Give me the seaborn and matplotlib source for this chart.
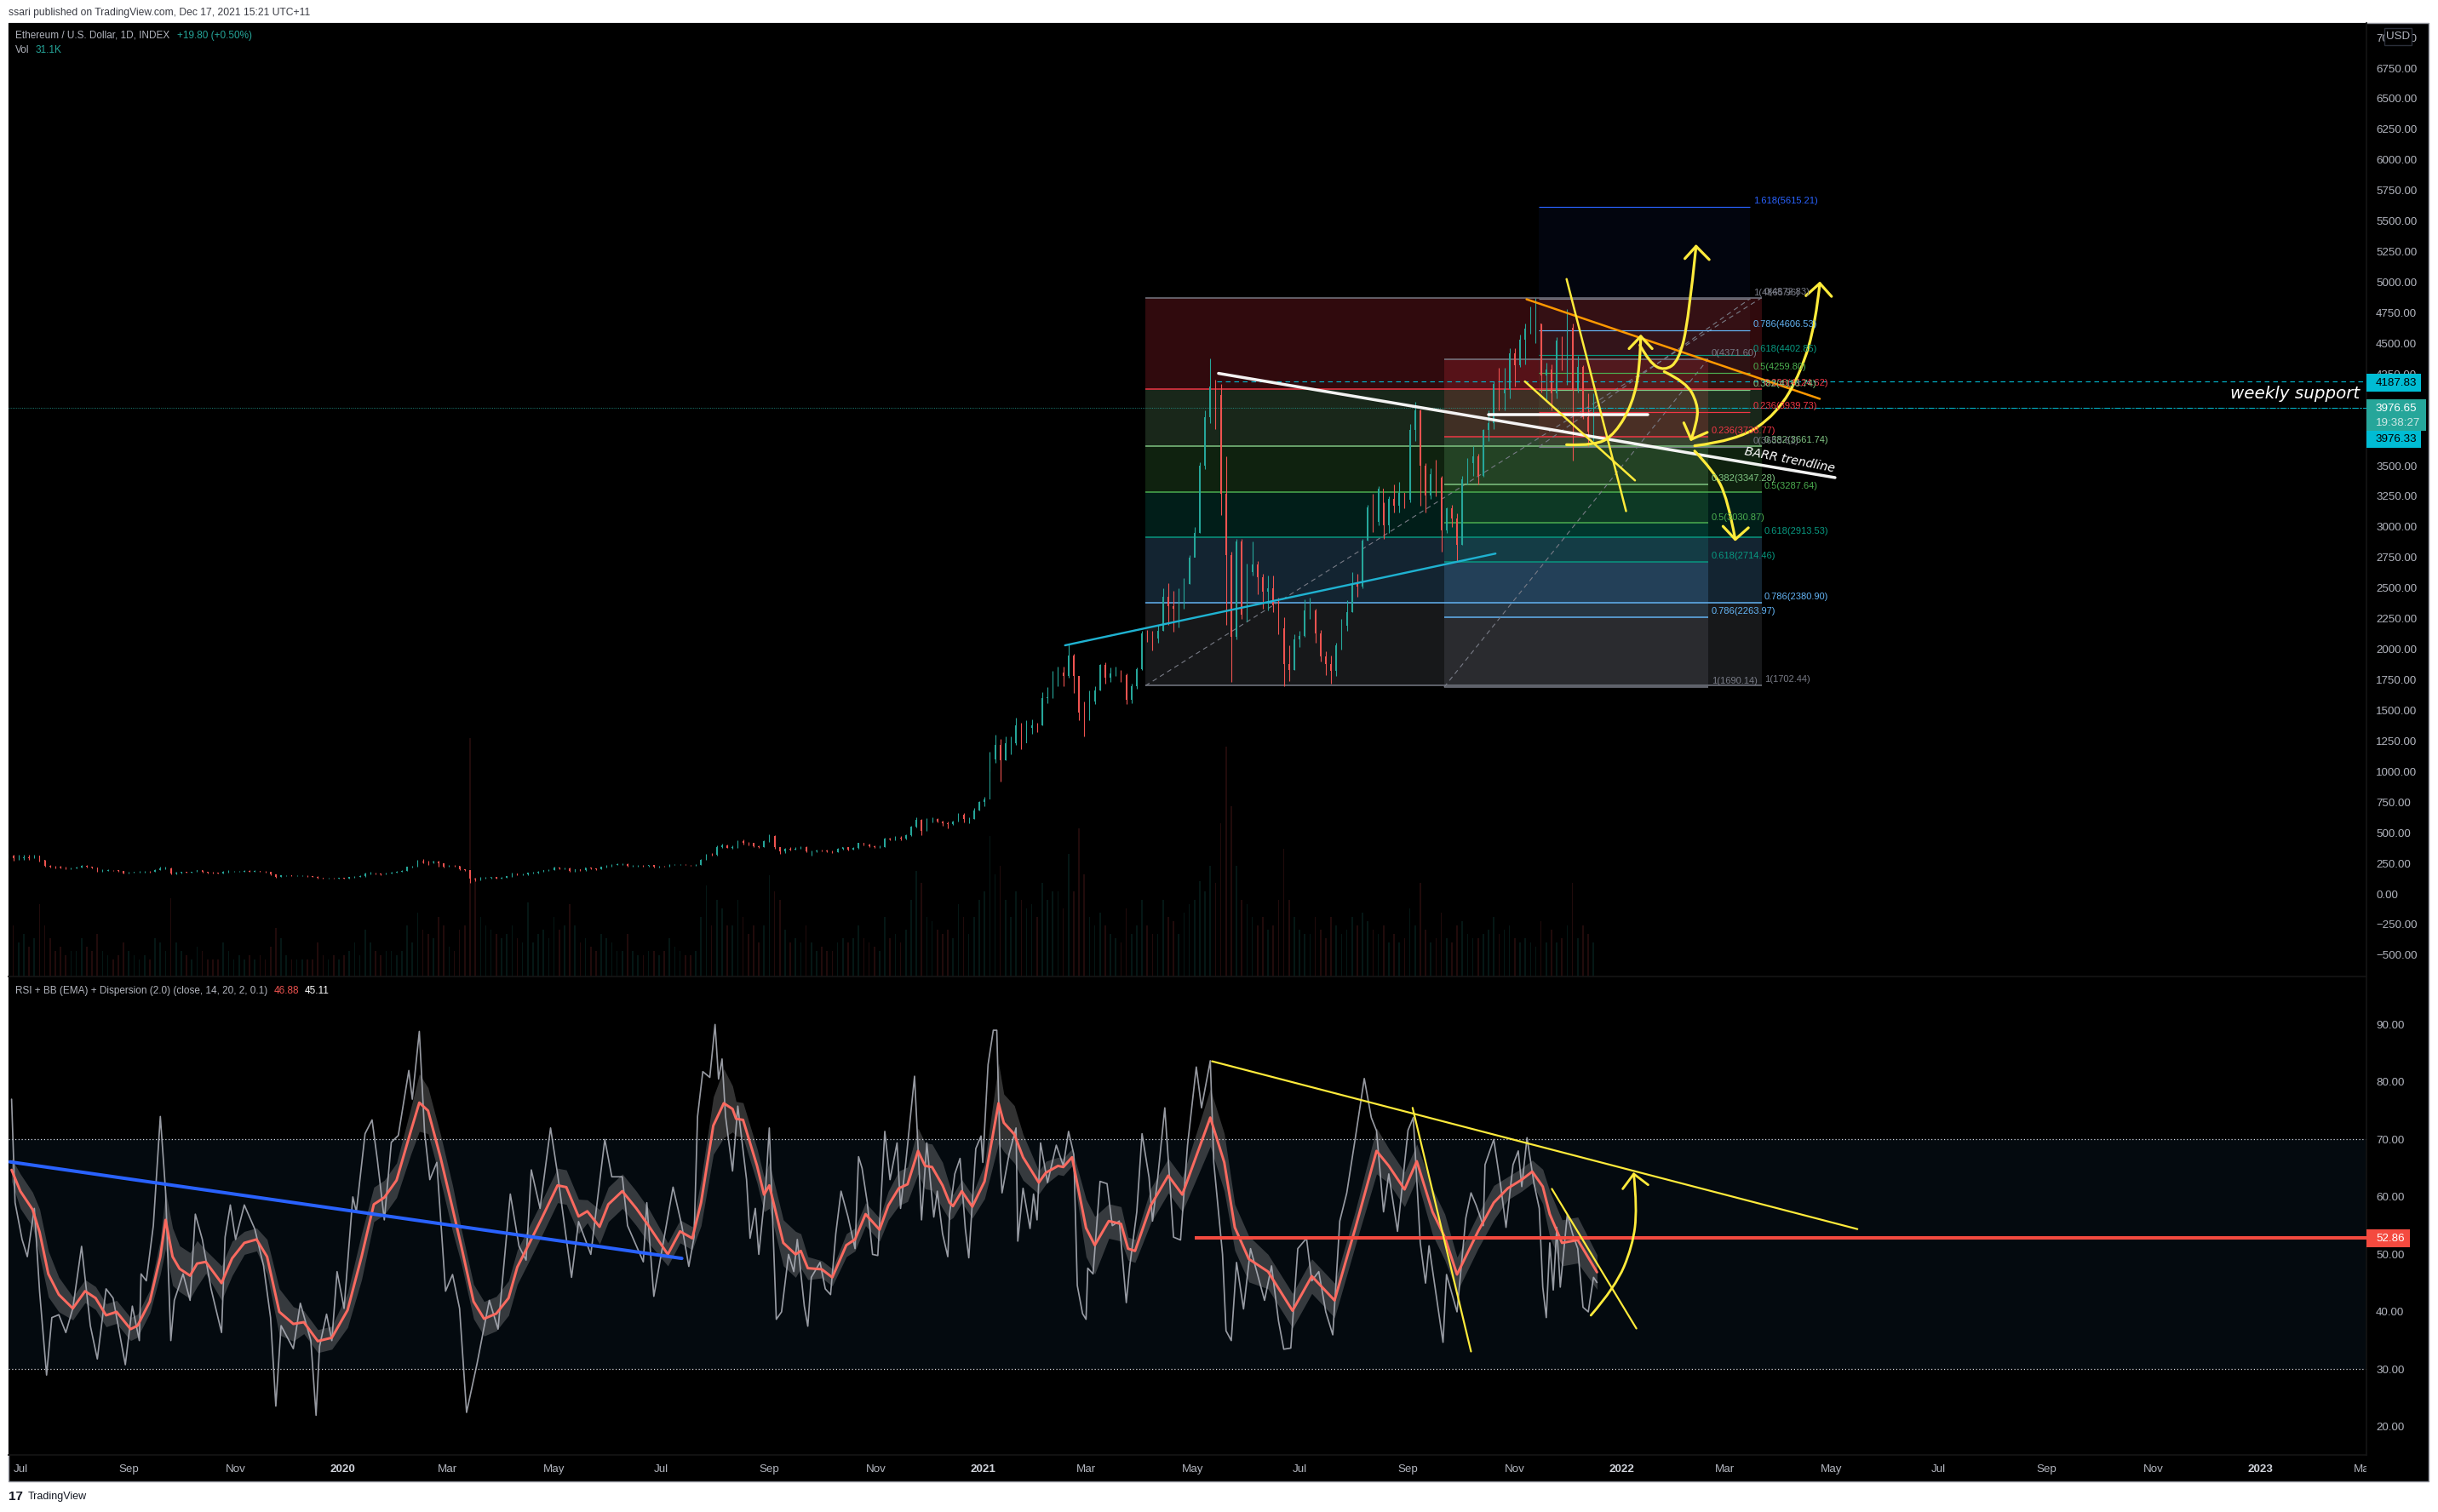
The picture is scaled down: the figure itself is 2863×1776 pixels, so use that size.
import seaborn as sns
import matplotlib.pyplot as plt
from matplotlib.patches import Rectangle, PathPatch
from matplotlib.path import Path
from matplotlib.transforms import Bbox

W, H = 2863, 1776

# x values everywhere are days since 2020-01-01
candle_start = -191
candle_step = 3
candle_close = [
    310, 290, 290, 300, 290, 310, 275, 230, 225, 220,
    215, 205, 210, 215, 232, 222, 215, 185, 190, 195,
    192, 188, 170, 172, 178, 178, 182, 180, 198, 210,
    210, 168, 172, 178, 176, 180, 192, 180, 175, 172,
    170, 178, 182, 182, 182, 190, 184, 186, 182, 178,
    160, 140, 152, 152, 148, 148, 148, 144, 142, 132,
    128, 128, 126, 132, 127, 136, 141, 144, 165, 170,
    166, 162, 168, 175, 182, 190, 222, 225, 265, 260,
    258, 265, 248, 226, 232, 228, 200, 195, 125, 115,
    133, 135, 138, 125, 133, 144, 164, 158, 158, 172,
    172, 182, 195, 197, 215, 208, 212, 188, 200, 195,
    214, 208, 202, 220, 230, 238, 242, 244, 232, 232,
    232, 228, 235, 222, 226, 225, 240, 240, 240, 238,
    235, 240, 278, 320, 318, 385, 400, 378, 380, 430,
    420, 415, 390, 385, 428, 475, 385, 350, 368, 365,
    368, 385, 345, 350, 355, 352, 350, 340, 370, 380,
    365, 378, 415, 405, 390, 385, 385, 455, 445, 460,
    450, 480, 550, 605, 515, 615, 615, 595, 575, 568,
    590, 645, 610, 610, 685, 750, 775, 1100, 1220, 1090,
    1230, 1230, 1380, 1230, 1360, 1380, 1375, 1600, 1610, 1740,
    1810, 1780, 1950, 1780, 1480, 1420, 1570, 1660, 1870, 1770,
    1800, 1810, 1790, 1590, 1700, 1840, 2130, 2100, 2090, 2150,
    2430, 2350, 2330, 2400, 2530, 2750, 2950, 3500, 3900, 4150,
    4080, 3270, 2770, 2100, 2880, 2280, 2630, 2690, 2590, 2470,
    2500, 2360, 2170, 1880, 1830, 2080, 2110, 2320, 2320, 2130,
    1940, 1880, 1820, 2030, 2190, 2300, 2530, 2510, 2890, 3160,
    3040, 3310, 3010, 3230, 3170, 3280, 3220, 3790, 3950, 3500,
    3260, 3430, 3400, 2970, 3150, 3070, 2850, 3390, 3520, 3580,
    3420, 3790, 3850, 4170, 4090, 4130, 4420, 4320, 4530, 4620,
    4640, 4660, 4240, 4290, 4090, 4520, 4300, 4630, 4120, 4310,
    3900, 3780, 3960,
]
candle_high = [
    330, 320, 320, 320, 320, 320, 310, 280, 240, 232,
    228, 222, 218, 222, 240, 235, 225, 218, 200, 202,
    198, 198, 190, 180, 184, 185, 186, 188, 202, 222,
    222, 215, 178, 182, 180, 184, 198, 198, 182, 178,
    176, 186, 196, 188, 188, 194, 192, 192, 190, 186,
    180, 162, 156, 156, 154, 152, 152, 150, 148, 146,
    135, 132, 132, 135, 134, 140, 146, 150, 172, 178,
    176, 170, 172, 180, 188, 194, 226, 232, 278, 285,
    270, 270, 272, 250, 240, 238, 230, 205, 195, 130,
    140, 142, 142, 140, 138, 148, 172, 170, 165, 176,
    178, 186, 198, 200, 225, 215, 218, 215, 205, 205,
    218, 215, 210, 224, 235, 245, 248, 250, 248, 240,
    238, 235, 240, 236, 232, 232, 245, 246, 244, 242,
    240, 245, 285, 325, 335, 395, 410, 405, 395, 440,
    445, 425, 415, 400, 435, 490, 480, 385, 375, 380,
    385, 390, 392, 355, 360, 365, 360, 355, 375, 385,
    385, 385, 420, 418, 410, 395, 395, 460, 460, 470,
    470, 490, 560, 625, 610, 620, 625, 620, 600, 590,
    600, 660, 660, 625, 700, 760, 790, 1160, 1300, 1265,
    1290, 1290, 1440, 1400, 1420, 1430, 1400, 1650, 1690, 1820,
    1860, 1860, 2040, 1960, 1680, 1570, 1660, 1700, 1880, 1890,
    1850, 1860, 1830, 1800, 1720, 1850, 2150, 2160, 2150, 2200,
    2500, 2540, 2480, 2500, 2580, 2770, 3000, 3530, 3950, 4380,
    4200, 4170, 3580, 2800, 2900, 2900, 2700, 2880, 2720, 2620,
    2600, 2600, 2420, 2260, 2030, 2120, 2150, 2410, 2420, 2330,
    2160, 1980, 1950, 2050, 2250, 2400, 2630, 2620, 2900, 3180,
    3270, 3330, 3200, 3250, 3350, 3370, 3280, 3840, 4020, 3960,
    3520, 3480, 3550, 3420, 3160, 3180, 3110, 3420, 3560, 3660,
    3600, 3800, 3950, 4190, 4300, 4300, 4460, 4460, 4570, 4660,
    4800, 4870, 4660, 4340, 4330, 4550, 4560, 4780, 4660, 4400,
    4320, 4090, 4090,
]
candle_low = [
    290, 270, 280, 280, 280, 290, 265, 225, 215, 212,
    208, 200, 202, 208, 214, 218, 212, 182, 182, 190,
    188, 184, 165, 165, 172, 172, 176, 176, 178, 196,
    205, 160, 162, 170, 172, 172, 178, 176, 170, 168,
    164, 168, 176, 178, 178, 178, 180, 182, 178, 174,
    155, 135, 138, 148, 144, 144, 144, 140, 138, 125,
    122, 124, 123, 124, 125, 126, 134, 138, 142, 160,
    160, 156, 158, 165, 172, 180, 186, 218, 224, 250,
    240, 254, 222, 215, 220, 222, 195, 190, 88, 106,
    112, 125, 128, 122, 124, 130, 142, 152, 150, 155,
    166, 170, 178, 190, 196, 200, 202, 180, 184, 190,
    190, 204, 198, 200, 216, 226, 235, 238, 226, 225,
    225, 222, 226, 218, 218, 222, 224, 236, 235, 234,
    232, 233, 236, 278, 310, 315, 375, 375, 372, 378,
    405, 395, 385, 378, 382, 425, 370, 330, 335, 355,
    360, 368, 340, 310, 340, 345, 342, 335, 338, 365,
    355, 360, 370, 395, 385, 375, 378, 384, 440, 440,
    440, 445, 476, 545, 480, 515, 585, 585, 560, 535,
    565, 590, 585, 580, 610, 680, 720, 1000, 1070, 920,
    1090, 1140, 1220, 1180, 1280, 1310, 1320, 1380, 1560, 1600,
    1700, 1700, 1770, 1640, 1420, 1290, 1420, 1550, 1660, 1720,
    1730, 1780, 1730, 1550, 1560, 1680, 1830, 2060, 1990, 2050,
    2150, 2200, 2140, 2180, 2330, 2530, 2780, 2950, 3470, 3850,
    3800, 3100, 2200, 1730, 2080, 2250, 2230, 2600, 2450, 2330,
    2320, 2300, 2120, 1700, 1740, 1830, 2020, 2100, 2250, 2050,
    1900, 1790, 1720, 1780, 2000, 2150, 2300, 2430, 2500, 2890,
    2960, 3010, 2900, 2950, 3120, 3120, 3150, 3200, 3700, 3170,
    3120, 3230, 3250, 2800, 2950, 3000, 2720, 2850, 3350, 3420,
    3350, 3410, 3700, 3800, 3950, 3950, 4050, 4150, 4310, 4330,
    4580, 4500, 4100, 4040, 3950, 4050, 4280, 4160, 3540, 4100,
    3880, 3660, 3700,
]
volume_k = [
    110, 60, 40, 50, 35, 45, 85, 60, 45, 30,
    35, 25, 30, 30, 45, 35, 30, 50, 30, 25,
    20, 25, 40, 30, 25, 20, 25, 20, 45, 40,
    30, 92, 40, 30, 25, 20, 35, 30, 20, 20,
    20, 40, 30, 20, 25, 20, 25, 20, 25, 20,
    35, 57, 45, 25, 20, 20, 20, 20, 20, 40,
    25, 20, 25, 20, 25, 30, 40, 25, 55, 40,
    30, 25, 30, 30, 25, 30, 60, 40, 75, 55,
    50, 45, 70, 60, 35, 30, 55, 60, 280, 113,
    70, 60, 55, 50, 45, 50, 60, 45, 40, 87,
    40, 50, 55, 45, 70, 55, 60, 85, 60, 40,
    45, 35, 30, 50, 45, 40, 30, 30, 50, 30,
    25, 25, 30, 30, 25, 30, 45, 35, 30, 25,
    25, 30, 70, 107, 60, 90, 80, 60, 60, 90,
    70, 50, 60, 40, 60, 119, 100, 90, 55, 40,
    45, 40, 60, 40, 30, 35, 30, 30, 40, 45,
    40, 45, 60, 45, 40, 35, 30, 70, 45, 50,
    40, 55, 90, 124, 110, 70, 65, 55, 50, 55,
    45, 85, 70, 50, 70, 90, 100, 165, 120, 130,
    90, 70, 100, 90, 80, 85, 70, 110, 90, 100,
    100, 80, 144, 100, 174, 120, 70, 60, 75, 60,
    50, 45, 40, 80, 50, 60, 90, 60, 50, 50,
    90, 70, 65, 50, 75, 85, 90, 112, 100, 130,
    110, 180, 270, 200, 130, 90, 85, 70, 60, 70,
    55, 60, 90, 150, 90, 70, 55, 50, 50, 70,
    55, 45, 70, 60, 50, 55, 70, 60, 75, 65,
    55, 50, 60, 40, 50, 40, 45, 80, 60, 110,
    55, 40, 45, 75, 45, 40, 60, 65, 50, 45,
    45, 50, 55, 70, 50, 55, 60, 45, 40, 45,
    40, 35, 65, 40, 55, 40, 45, 60, 110, 45,
    60, 50, 40,
]

rsi_days = [
    -189, -187, -183, -180, -176, -173, -169, -166, -162, -158, -154, -149, -144, -140, -135, -131,
    -124, -120, -116, -115, -112, -108, -104, -101, -98, -96, -91, -87, -84, -80, -75, -69,
    -67, -64, -61, -56, -50, -45, -41, -38, -35, -28, -24, -18, -15, -13, -9, -6,
    -3, 1, 6, 8, 13, 17, 20, 24, 28, 32, 38, 40, 44, 47, 50, 54,
    59, 63, 67, 71, 77, 84, 89, 96, 101, 105, 108, 113, 119, 123, 131, 135,
    142, 150, 154, 160, 163, 172, 174, 178, 189, 194, 198, 201, 203, 206, 210, 213,
    215, 217, 219, 223, 226, 231, 233, 236, 238, 242, 244, 247, 248, 251, 255, 258,
    260, 264, 266, 268, 273, 276, 279, 282, 285, 289, 293, 295, 297, 300, 303, 306,
    310, 313, 317, 319, 322, 325, 327, 331, 334, 338, 340, 343, 346, 347, 350, 353,
    356, 358, 362, 365, 366, 369, 372, 374, 376, 377, 381, 385, 386, 389, 393, 395,
    397, 399, 403, 408, 412, 415, 418, 420, 423, 425, 426, 429, 433, 437, 440, 444,
    448, 450, 454, 457, 461, 463, 466, 470, 475, 479, 483, 488, 491, 496, 498, 503,
    505, 508, 511, 515, 519, 527, 531, 535, 538, 542, 546, 551, 554, 558, 562, 566,
    570, 574, 579, 584, 588, 591, 595, 598, 603, 609, 612, 616, 619, 621, 629, 631,
    637, 642, 645, 648, 652, 653, 658, 662, 665, 669, 672, 674, 677, 681, 684, 686,
    688, 690, 692, 694, 696, 700, 703, 706, 709, 712, 715, 717,
]
rsi_vals = [
    77, 59, 52.6, 49.6, 58, 43.6, 29, 39, 39.5, 36.4, 40.6, 51.4, 37.6, 31.8, 44, 42.4,
    30.8, 41, 35, 46.6, 45.4, 55, 74, 61, 35, 42, 46.6, 42, 57, 52.6, 44, 36.4,
    53, 58.6, 52.6, 58.6, 54.4, 48, 39, 23.6, 37.6, 33.6, 41.5, 35, 22, 34, 39.6, 35,
    47, 40.6, 60, 57.4, 71, 73.4, 66.5, 56, 69.5, 70.7, 82, 77, 88.8, 71.3, 63, 66,
    43.6, 46.5, 40.6, 22.5, 31, 42, 37, 60.5, 51.4, 49, 64.7, 58, 72, 64, 46, 55.7,
    50, 70, 63.5, 63.5, 55, 48.7, 59, 42.7, 61.7, 55, 47.9, 53, 74, 81.8, 80.8, 90,
    80.5, 84, 74, 64.5, 75.8, 63, 52.8, 58, 50, 62, 72, 47, 38.7, 40, 50, 47,
    52.6, 41, 37.5, 46, 48.6, 44, 43, 53.6, 61, 56.5, 51, 67, 65, 59, 50, 49.8,
    71.4, 63, 69.4, 58, 66, 75, 81, 56, 69.4, 56.5, 61, 53.6, 49.6, 57, 64, 66.7,
    54.5, 49.4, 68.4, 70.6, 66, 83, 89, 89, 66, 60.7, 67.4, 72, 52.3, 61.5, 54.5, 60.5,
    56, 69.4, 62.5, 69, 65.4, 71.4, 67.4, 44.6, 39.7, 38.7, 47.6, 46.6, 62.7, 62.3, 55, 55.8,
    41.6, 48, 57.4, 71, 63.4, 55.8, 63.4, 75.5, 53, 52.5, 69, 82.6, 75.5, 83.7, 66, 50,
    36.7, 35, 48.6, 40.5, 51, 42, 48, 38.4, 33.5, 33.7, 51, 52.8, 45.4, 47, 40, 36,
    55.8, 60.7, 70.5, 80.6, 73.8, 71.5, 57.4, 64, 54, 71.6, 73.8, 52, 45, 51.5, 34.7, 46.5,
    40, 56.3, 60.7, 58.5, 55, 65.6, 70, 61.8, 54.7, 65.6, 68, 61.8, 70.3, 62.3, 58, 44.3,
    39, 52, 43.8, 54.7, 44.3, 56.9, 53.6, 51, 40.8, 40, 46, 45.1,
]
ema_days = [
    -189, -184, -177, -173, -168, -162, -154, -147, -141, -135, -129, -121, -117, -110, -104, -101, -97, -93, -87, -83,
    -78, -69, -63, -56, -49, -43, -36, -28, -22, -14, -6, 3, 11, 18, 24, 31, 39, 44, 49, 56,
    63, 68, 75, 81, 88, 95, 100, 107, 114, 123, 128, 135, 140, 147, 152, 160, 168, 175, 186, 193,
    200, 205, 212, 218, 223, 225, 229, 233, 237, 241, 244, 252, 259, 262, 266, 274, 280, 288, 293, 299,
    307, 312, 318, 323, 329, 333, 337, 343, 347, 349, 354, 360, 367, 375, 378, 384, 389, 398, 402, 409,
    412, 417, 425, 430, 438, 445, 449, 453, 462, 472, 480, 496, 504, 510, 518, 529, 543, 554, 567, 579,
    591, 598, 607, 614, 623, 630, 637, 649, 658, 666, 674, 680, 686, 690, 697, 706, 717,
]
ema_vals = [
    64.7, 61, 57.8, 53.9, 46.6, 43, 40.6, 43.6, 42.4, 39.4, 40, 37, 37.6, 41.8, 49.6, 56, 49.6, 47.5, 46.3, 48.4,
    48.7, 45, 49.3, 52, 52.6, 49.6, 40, 37.9, 38.2, 34.9, 35.5, 40.3, 49.6, 58.7, 59.9, 62.9, 71.3, 76.4, 75, 67,
    58, 51.4, 41.8, 38.8, 39.7, 42.4, 47.8, 52, 56.3, 62, 61.7, 56.6, 57.5, 54.8, 58.7, 61, 58, 55, 50, 54,
    52.8, 59, 72.4, 76.3, 75.3, 73.6, 73.4, 69.4, 65.4, 60.4, 62, 52, 50, 50.6, 47.6, 47.4, 46, 51.6, 52.6, 57,
    54.3, 58.5, 61.5, 62.2, 68, 65.4, 65.2, 62, 59, 58.4, 61, 58.3, 62.7, 76.3, 72.9, 70.9, 66.9, 62.5, 64.2, 65.4,
    65.2, 66.9, 54.6, 51.6, 55.8, 55.3, 51, 50.6, 58.5, 63.7, 60.4, 73.8, 66, 54.7, 49.2, 47, 40.2, 46.2, 42, 54.7,
    68, 65.4, 61.3, 66.2, 57.4, 53, 46.5, 54, 59, 61.5, 63, 64.4, 61.8, 57, 52, 52.5, 46.9,
]
ema_spread = [
    2, 3, 3, 4, 4, 3, 2, 2, 2, 2, 2, 2, 2, 2, 3, 5, 5, 4, 4, 4,
    2, 3, 3, 2, 2, 3, 4, 3, 2, 2, 2, 3, 4, 3, 3, 3, 4, 5, 4, 4,
    4, 3, 3, 3, 3, 3, 3, 3, 3, 3, 3, 3, 2, 3, 3, 3, 3, 3, 2, 2,
    2, 4, 5, 6, 4, 3, 3, 3, 3, 3, 4, 4, 4, 3, 2, 1.5, 1.5, 2, 2, 2,
    2, 2.5, 3, 3, 4, 4, 4, 4, 3, 2, 2, 2, 3, 7, 5, 5, 4, 2, 2, 1.5,
    1.5, 1.5, 5, 5, 3, 3, 2, 2, 3, 3, 3, 5, 5, 4, 4, 3, 3, 3, 3, 3,
    4, 3, 3, 3, 4, 4, 3, 3, 3, 2, 2, 2, 3, 4, 4, 4, 3,
]

price_ticks = [7000 - 250 * i for i in range(31)]
rsi_ticks = [20, 30, 40, 50, 60, 70, 80, 90]
time_ticks = [-184, -122, -61, 0, 60, 121, 182, 244, 305, 366, 425, 486, 547, 609, 670, 731, 790, 851, 912, 974, 1035, 1096, 1155]
time_labels = ['Jul', 'Sep', 'Nov', '2020', 'Mar', 'May', 'Jul', 'Sep', 'Nov', '2021', 'Mar', 'May', 'Jul', 'Sep', 'Nov', '2022', 'Mar', 'May', 'Jul', 'Sep', 'Nov', '2023', 'Mar']

fib_ratio_a = ['0', '0.236', '0.382', '0.5', '0.618', '0.786', '1']
fib_price_a = [4872.83, 4124.62, 3661.74, 3287.64, 2913.53, 2380.90, 1702.44]
fib_price_b = [4371.60, 3738.77, 3347.28, 3030.87, 2714.46, 2263.97, 1690.14]
fib_ratio_c = ['0', '0.236', '0.382', '0.5', '0.618', '0.786', '1', '1.618']
fib_price_c = [3653.61, 3939.73, 4116.74, 4259.80, 4402.85, 4606.53, 4865.96, 5615.21]
fib_colors = {'0': '#787b86', '0.236': '#f23645', '0.382': '#81c784', '0.5': '#4caf50',
              '0.618': '#089981', '0.786': '#64b5f6', '1': '#787b86', '1.618': '#2962ff'}

# drawings on the price panel, (days, prices)
white_trend = ([500.7, 853], [4255, 3403])
cyan_trend = ([413, 659], [2032, 2782])
orange_trend = ([676.7, 844.3], [4861, 4047])
white_flat = ([655, 746], [3918, 3918])
yellow_straight = [
    ([699.6, 733.6], [5026, 3129]),
    ([675.8, 738.7], [4189, 3380]),
]
yellow_curves = [
    ([699.6, 716.3, 727.5, 737.3, 741.5, 742], [3672, 3663, 3764, 4009, 4298, 4558]),
    ([741.5, 747, 755.4, 763.8, 769.4, 773.6], [4486, 4342, 4275, 4356, 4702, 5294]),
    ([755.4, 768, 774.4, 774.4, 770.8], [4269, 4183, 4010, 3865, 3715]),
    ([772.8, 797.3, 819.7, 833.7, 842, 844.3], [3663, 3706, 3923, 4269, 4674, 4991]),
    ([772.8, 783.4, 791.7, 796], [3620, 3461, 3230, 2898]),
]
yellow_heads = [
    ([735.3, 742, 748.5], [4457, 4558, 4457]),
    ([767.2, 773.6, 781.1], [5193, 5294, 5185]),
    ([766.6, 770.8, 780], [3851, 3715, 3773]),
    ([836.4, 844.3, 851], [4890, 4991, 4884]),
    ([789, 796, 803.5], [3005, 2898, 2993]),
]

# drawings on the rsi panel, (days, rsi)
blue_trend = ([-190, 194], [66.1, 49.3])
rsi_yellow = [
    ([497, 865.8], [83.6, 54.4]),
    ([611.6, 645], [75.5, 33.1]),
    ([691.2, 739.5], [61.4, 37.1]),
]
rsi_curve = ([713.5, 727.5, 737.3, 740, 738], [39.4, 44.3, 51.4, 58, 64])
rsi_head = ([731.7, 738, 746.2], [61.4, 64, 62.1])

YELLOW = '#ffeb3b'
TICK = '#b2b5be'
UP = '#26a69a'
DOWN = '#ef5350'

sns.set_theme(style='dark', rc={'axes.facecolor': 'black', 'figure.facecolor': 'white', 'axes.grid': False})
plt.rcParams['font.family'] = ['Liberation Sans', 'DejaVu Sans']

fig = plt.figure(figsize=(W / 100, H / 100), dpi=100)


def panel(left, top, right, bottom, **kw):
    return fig.add_axes([left / W, 1 - bottom / H, (right - left) / W, (bottom - top) / H], **kw)


def label(x, y, s, **kw):
    kw.setdefault('va', 'center')
    kw.setdefault('fontsize', 8.2)
    kw.setdefault('color', TICK)
    return fig.text(x / W, 1 - y / H, s, **kw)


def box(x0, y0, x1, y1, face, edge='none'):
    fig.add_artist(Rectangle((x0 / W, 1 - y1 / H), (x1 - x0) / W, (y1 - y0) / H, transform=fig.transFigure,
                             facecolor=face, edgecolor=edge, zorder=10))


def draw(ax, line, color, lw, **kw):
    sns.lineplot(x=line[0], y=line[1], ax=ax, color=color, linewidth=lw * 0.72, estimator=None, sort=False,
                 legend=False, **kw)


def curve(ax, line, color, lw, zorder=6):
    # quadratic segments through the midpoints so the hand drawn arrows look round
    pts = list(zip(line[0], line[1]))
    verts = [pts[0]]
    codes = [Path.MOVETO]
    for i in range(1, len(pts) - 1):
        nxt = pts[-1] if i == len(pts) - 2 else ((pts[i][0] + pts[i + 1][0]) / 2, (pts[i][1] + pts[i + 1][1]) / 2)
        verts += [pts[i], nxt]
        codes += [Path.CURVE3, Path.CURVE3]
    ax.add_patch(PathPatch(Path(verts, codes), facecolor='none', edgecolor=color, lw=lw * 0.72, zorder=zorder,
                           capstyle='round'))


# chart frame
fig.add_artist(Rectangle((10 / W, 1 - 1740 / H), 2842 / W, 1713 / H, transform=fig.transFigure,
                         facecolor='black', edgecolor='#9598a1', lw=1, zorder=-1))

XLIM = (-190.75, 1156.7)
vol = panel(10, 27, 2779, 1147)
ax = panel(10, 27, 2779, 1147, zorder=2)
rsi = panel(10, 1148, 2779, 1709)
ax.patch.set_visible(False)

candle_x = [candle_start + candle_step * i for i in range(len(candle_close))]
candle_open = [candle_close[0]] + candle_close[:-1]
candle_colors = [UP if c >= o else DOWN for c, o in zip(candle_close, candle_open)]

vol.bar(candle_x, volume_k, width=0.8, color=candle_colors, alpha=0.14, linewidth=0)
vol.set_xlim(XLIM)
vol.set_ylim(0, 1120)
vol.set_xticks([])
vol.set_yticks([])

# fib boxes first, candles sit on top
fib_a_x = [459, 811]
fib_b_x = [629.6, 780.5]
fib_c_x = [683.7, 804.5]
for i in range(len(fib_price_a) - 1):
    ax.fill_between(fib_a_x, fib_price_a[i], fib_price_a[i + 1], color=fib_colors[fib_ratio_a[i + 1]], alpha=0.2, lw=0, zorder=1)
    ax.fill_between(fib_b_x, fib_price_b[i], fib_price_b[i + 1], color=fib_colors[fib_ratio_a[i + 1]], alpha=0.2, lw=0, zorder=1)
for i in range(len(fib_price_c) - 1):
    ax.fill_between(fib_c_x, fib_price_c[i], fib_price_c[i + 1], color=fib_colors[fib_ratio_c[i + 1]], alpha=0.06, lw=0, zorder=1)

for ratios, prices, xs, lab_x, lw in [(fib_ratio_a, fib_price_a, fib_a_x, 812.6, 1.5),
                                      (fib_ratio_a, fib_price_b, fib_b_x, 782.5, 1.5),
                                      (fib_ratio_c, fib_price_c, fib_c_x, 806.3, 1.2)]:
    for r, p in zip(ratios, prices):
        col = fib_colors[r]
        ax.hlines(p, xs[0], xs[1], color=col, lw=lw * 0.72, zorder=2)
        ax.annotate(f'{r}({p:.2f})', (lab_x, p), xytext=(0, 5), textcoords='offset points', color=col,
                    fontsize=8, va='center', zorder=7)
    # dashed diagonal runs between the 0 and 1 levels only
    ax.plot(xs, [prices[ratios.index('1')], prices[ratios.index('0')]] if prices[0] > prices[-1]
            else [prices[ratios.index('0')], prices[ratios.index('1')]],
            color='#787b86', lw=0.8, ls=(0, (5, 4)), zorder=2)

# candles
ax.vlines(candle_x, candle_low, candle_high, colors=candle_colors, lw=0.8, zorder=3)
ax.bar(candle_x, [c - o for c, o in zip(candle_close, candle_open)], bottom=candle_open, width=0.75,
       color=candle_colors, linewidth=0, zorder=3)

# price lines
ax.hlines(3976.65, XLIM[0], XLIM[1], color='#26a69a', lw=0.6, ls=':', zorder=2)
ax.hlines(3976.33, 705, XLIM[1], color='#00bcd4', lw=0.7, ls=(0, (7, 2, 1.5, 2)), zorder=3)
ax.hlines(4187.83, 500, XLIM[1], color='#00bcd4', lw=0.8, ls=(0, (5, 4)), zorder=3)

draw(ax, cyan_trend, '#1fb2d1', 2.4, zorder=5)
draw(ax, orange_trend, '#ff9800', 2.5, zorder=5)
draw(ax, white_trend, 'white', 3.5, zorder=5, alpha=0.95)
draw(ax, white_flat, 'white', 3.5, zorder=5)
for line in yellow_straight:
    draw(ax, line, YELLOW, 2.5, zorder=6)
for line in yellow_curves:
    curve(ax, line, YELLOW, 3.2)
for line in yellow_heads:
    draw(ax, line, YELLOW, 3.2, zorder=6)

ax.text(827, 3549, 'BARR trendline', color='white', fontsize=10.3, family='DejaVu Sans', style='italic',
        rotation=-11, rotation_mode='anchor', ha='center', va='center', zorder=8)
ax.text(1153, 4085, 'weekly support', color='white', fontsize=14.3, family='DejaVu Sans', style='italic',
        ha='right', va='center', zorder=8)

ax.set_xlim(XLIM)
ax.set_ylim(-675, 7119)
ax.set_xticks([])
ax.yaxis.tick_right()
ax.set_yticks(price_ticks)
ax.set_yticklabels([f'{t:.2f}'.replace('-', '\u2212') for t in price_ticks])
ax.tick_params(axis='y', length=0, pad=8, labelsize=9.6, labelcolor=TICK)
ax.set_xlabel('')
ax.set_ylabel('')

# rsi panel
rsi.axhspan(30, 70, color='#040a0f', lw=0, zorder=1)
rsi.hlines([30, 70], XLIM[0], XLIM[1], color='#d1d4dc', lw=0.9, ls=(0, (1, 2)), zorder=2)
rsi.fill_between(ema_days, [e - s for e, s in zip(ema_vals, ema_spread)], [e + s for e, s in zip(ema_vals, ema_spread)],
                 color='white', alpha=0.2, lw=0, zorder=3)
draw(rsi, (rsi_days, rsi_vals), '#b2b5be', 1.7, zorder=4, alpha=0.85)
draw(rsi, (ema_days, ema_vals), '#fa6a60', 3, zorder=5)
draw(rsi, blue_trend, '#2962ff', 4, zorder=6)
rsi.hlines(52.86, 487, XLIM[1], color='#f44a3f', lw=4 * 0.72, zorder=6)
for line in rsi_yellow:
    draw(rsi, line, YELLOW, 2.2, zorder=7)
curve(rsi, rsi_curve, YELLOW, 2.8, zorder=7)
draw(rsi, rsi_head, YELLOW, 2.8, zorder=7)

rsi.set_xlim(XLIM)
rsi.set_ylim(15.1, 98.2)
rsi.yaxis.tick_right()
rsi.set_yticks(rsi_ticks)
rsi.set_yticklabels([f'{t:.2f}' for t in rsi_ticks])
rsi.tick_params(axis='y', length=0, pad=8, labelsize=9.6, labelcolor=TICK)
rsi.set_xticks(time_ticks)
rsi.set_xticklabels(time_labels)
rsi.tick_params(axis='x', length=0, pad=8, labelsize=9.6, labelcolor=TICK)
clip = Bbox([[10, H - 1740], [2779, H - 1709]])
for tick, text in zip(rsi.get_xticklabels(), time_labels):
    tick.set_clip_on(True)
    tick.set_clip_box(clip)
    if text.isdigit():
        tick.set_fontweight('bold')
        tick.set_color('#d1d4dc')
rsi.set_xlabel('')
rsi.set_ylabel('')

for a in (vol, ax, rsi):
    for side in a.spines:
        a.spines[side].set_visible(False)
for a in (ax, rsi):
    a.spines['right'].set_visible(True)
    a.spines['right'].set_color('#141414')
    a.spines['bottom'].set_visible(True)
    a.spines['bottom'].set_color('#141414')

# header, legends, footer
label(10, 15, 'ssari published on TradingView.com, Dec 17, 2021 15:21 UTC+11', color='#3a3c44', fontsize=8.7)
label(18, 42, 'Ethereum / U.S. Dollar, 1D, INDEX', fontsize=8.5)
label(208, 42, '+19.80 (+0.50%)', color=UP, fontsize=8.5)
label(18, 59, 'Vol', fontsize=8.5)
label(42, 59, '31.1K', color=UP, fontsize=8.5)
label(18, 1164, 'RSI + BB (EMA) + Dispersion (2.0) (close, 14, 20, 2, 0.1)', fontsize=8.5)
label(322, 1164, '46.88', color='#ef5350', fontsize=8.5)
label(358, 1164, '45.11', color='white', fontsize=8.5)
label(10, 1758, '17', color='#131722', fontsize=11, fontweight='bold')
label(33, 1758, 'TradingView', color='#131722', fontsize=9)

# axis tags
box(2800, 33, 2832, 53, 'black', '#2a2e39')
label(2816, 43, 'USD', fontsize=9.6, ha='center', zorder=11)
box(2779, 439, 2843, 460, '#00bcd4')
label(2790, 450, '4187.83', color='black', fontsize=9.6, zorder=11)
box(2779, 469, 2849, 506, '#26a69a')
label(2790, 480, '3976.65', color='white', fontsize=9.6, zorder=11)
label(2790, 497, '19:38:27', color='#cfe8e5', fontsize=9.6, zorder=11)
box(2779, 506, 2843, 526, '#00bcd4')
label(2790, 516, '3976.33', color='black', fontsize=9.6, zorder=11)
box(2779, 1444, 2830, 1465, '#f44a3f')
label(2790, 1455, '52.86', color='white', fontsize=9.6, zorder=11)

fig.savefig('out.png', dpi=100, facecolor='white')
